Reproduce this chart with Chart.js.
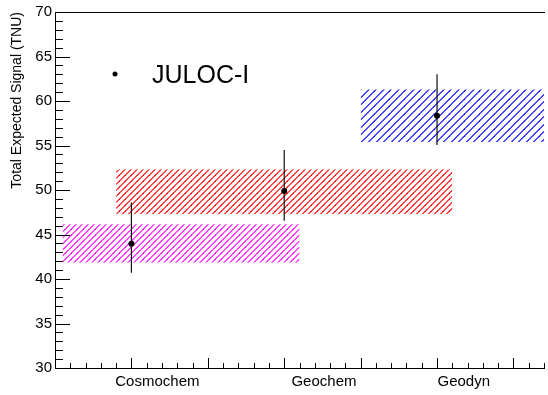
<!DOCTYPE html>
<html>
<head>
<meta charset="utf-8">
<script src="https://cdn.jsdelivr.net/npm/chart.js@4/dist/chart.umd.min.js"></script>
<style>
    html, body { margin: 0; padding: 0; background: #fff; }
    #wrap { width: 548px; height: 395px; }
</style>
</head>
<body>
<div id="wrap"><canvas id="signal"></canvas></div>
<script>
// category labels and where they sit on the x axis (axis units)
const categories = ['Cosmochem', 'Geochem', 'Geodyn']
const labelX = [1.34, 3.52, 5.35]

// JULOC-I measurement points with error bars
const seriesName = 'JULOC-I'
const pointX = [1, 3, 5]
const signal = [43.95, 49.9, 58.35]
const errHi = [48.6, 54.5, 63.0]
const errLo = [40.7, 46.55, 55.05]

// model prediction bands (hatched boxes)
const modelX0 = [0.1, 0.8, 4.0]
const modelX1 = [3.2, 5.2, 6.4]
const modelHi = [46.15, 52.3, 61.3]
const modelLo = [41.85, 47.3, 55.4]
const modelColors = ['rgb(255,0,255)', 'rgb(255,0,0)', 'rgb(0,0,255)']
const hatchStep = [6, 6, 7.5]

Chart.defaults.font.family = "'Liberation Sans', Arial, sans-serif"
Chart.defaults.color = '#000'

// "///" hatch; lines sit between pixel centres so they stay two pixels soft
// (one-pixel diagonals lost their colour in the photo)
function hatch(color, step) {
    const n = step % 1 === 0 ? 1 : 2
    const size = step * n
    const c = document.createElement('canvas')
    c.width = size
    c.height = size
    const g = c.getContext('2d')
    g.strokeStyle = color
    g.lineWidth = 1.1
    for (let k = -1; k <= 2 * n; k++) {
        const s = Math.round(k * step) + 0.5
        g.beginPath()
        g.moveTo(s + 3, -3)
        g.lineTo(-3, s + 3)
        g.stroke()
    }
    return g.createPattern(c, 'repeat')
}

// ROOT style ticks, drawn inward from the axes
const axisTicks = {
    id: 'axisTicks',
    afterDraw(chart) {
        const {ctx, chartArea: a, scales: {x, y}} = chart
        ctx.save()
        ctx.strokeStyle = '#000'
        ctx.lineWidth = 1
        ctx.beginPath()
        for (let v = y.min; v <= y.max; v++) {
            const py = Math.round(y.getPixelForValue(v)) + 0.5
            const len = v % 5 === 0 ? 15 : 8
            ctx.moveTo(a.left, py)
            ctx.lineTo(a.left + len, py)
        }
        for (let i = 1; i / 5 <= x.max; i++) {
            const px = Math.round(x.getPixelForValue(i / 5)) + 0.5
            const len = i % 5 === 0 ? 10 : 5
            ctx.moveTo(px, a.bottom)
            ctx.lineTo(px, a.bottom - len)
        }
        ctx.stroke()
        ctx.restore()
    }
}

const legendBox = {
    id: 'legendBox',
    afterDraw(chart) {
        const {ctx, chartArea: a} = chart
        ctx.save()
        ctx.fillStyle = '#000'
        ctx.beginPath()
        ctx.arc(a.left + 60, a.top + 62, 2.5, 0, Math.PI * 2)
        ctx.fill()
        ctx.font = "25px 'Liberation Sans', Arial, sans-serif"
        ctx.textBaseline = 'alphabetic'
        ctx.fillText(seriesName, a.left + 97, a.top + 71)
        ctx.restore()
    }
}

const boxSets = modelX0.map((x0, i) => ({
    data: [{x: x0, y: modelHi[i]}, {x: modelX1[i], y: modelHi[i]}],
    showLine: true,
    borderWidth: 0,
    borderColor: 'rgba(0,0,0,0)',
    pointRadius: 0,
    fill: {value: modelLo[i]},
    backgroundColor: hatch(modelColors[i], hatchStep[i]),
    order: 3
}))

const errorSets = pointX.map((px, i) => ({
    data: [{x: px, y: errLo[i]}, {x: px, y: errHi[i]}],
    showLine: true,
    borderWidth: 1.2,
    borderColor: '#111',
    pointRadius: 0,
    order: 2
}))

const pointSet = {
    label: seriesName,
    data: pointX.map((px, i) => ({x: px, y: signal[i]})),
    pointRadius: 3,
    pointBackgroundColor: '#000',
    pointBorderWidth: 0,
    order: 1
}

new Chart(document.getElementById('signal'), {
    type: 'scatter',
    data: {datasets: [pointSet, ...errorSets, ...boxSets]},
    options: {
        animation: false,
        responsive: true,
        maintainAspectRatio: false,
        events: [],
        layout: {padding: {top: 12, right: 0, bottom: 0, left: 0}},
        plugins: {legend: {display: false}, tooltip: {enabled: false}},
        scales: {
            x: {
                type: 'linear',
                position: 'bottom',
                min: 0,
                max: 6.4,
                afterBuildTicks: s => { s.ticks = labelX.map(v => ({value: v})) },
                afterFit: s => { s.height = 27 },
                grid: {display: false, drawTicks: false},
                border: {display: true, color: '#000', width: 1},
                ticks: {
                    callback: (v, i) => categories[i],
                    font: {size: 15},
                    color: '#000',
                    padding: 5,
                    maxRotation: 0,
                    autoSkip: false
                }
            },
            xTop: {
                type: 'linear',
                position: 'top',
                min: 0,
                max: 6.4,
                afterFit: s => { s.height = 0 },
                grid: {display: false, drawTicks: false},
                border: {display: true, color: '#000', width: 1},
                ticks: {display: false}
            },
            y: {
                type: 'linear',
                min: 30,
                max: 70,
                afterFit: s => { s.width = 55 },
                grid: {display: false, drawTicks: false},
                border: {display: true, color: '#000', width: 1},
                ticks: {stepSize: 5, font: {size: 15}, color: '#000', padding: 3},
                title: {
                    display: true,
                    text: 'Total Expected Signal (TNU)',
                    align: 'end',
                    font: {size: 14},
                    color: '#000',
                    padding: {top: 8.7, bottom: 0}
                }
            }
        }
    },
    plugins: [axisTicks, legendBox]
})
</script>
</body>
</html>
